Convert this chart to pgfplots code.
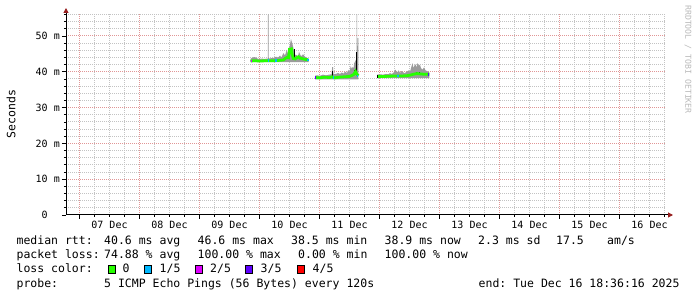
\documentclass[border=0pt]{standalone}
\usepackage{pgfplots}
\pgfplotsset{compat=1.18}
\usetikzlibrary{arrows.meta}
\usepackage{fontspec}
\setmonofont{DejaVu Sans Mono}
\definecolor{lgreen}{RGB}{38,255,0}
\definecolor{lone}{RGB}{0,184,255}
\definecolor{ltwo}{RGB}{221,0,255}
\definecolor{lthree}{RGB}{94,0,255}
\definecolor{lfour}{RGB}{255,0,0}
\definecolor{smoke}{RGB}{155,155,155}
\definecolor{mgrid}{RGB}{225,150,150}
\definecolor{ngrid}{RGB}{195,195,195}
\definecolor{arrowred}{RGB}{150,30,30}
\definecolor{wmark}{RGB}{185,185,185}
\newcommand\lfont{\ttfamily\fontsize{11.5}{13}\selectfont}
\newcommand\afont{\ttfamily\fontsize{10}{12}\selectfont}
\newcommand\wfont{\ttfamily\fontsize{8.2}{10}\selectfont}
\newcommand\lbox[2]{\draw[fill=#1, draw=black, line width=0.8pt] (#2pt,23.6pt) rectangle ++(7.2pt,7.6pt);}
\begin{document}
\begin{tikzpicture}
\path[use as bounding box] (0pt,0pt) rectangle (697pt,297pt);
\begin{axis}[
  at={(66pt,82pt)}, anchor=south west,
  width=600pt, height=200.5pt, scale only axis,
  xmin=-5.4, xmax=234.6, ymin=0, ymax=56,
  axis lines=left,
  x axis line style={-{Triangle[length=5pt,width=5pt,color=arrowred]}, shorten >=-7pt},
  y axis line style={-{Triangle[length=5pt,width=5pt,color=arrowred]}, shorten >=-6.5pt},
  axis line style={black, line width=1pt},
  xtick={0,24,48,72,96,120,144,168,192,216},
  xticklabels={},
  minor xtick={6,12,18,30,36,42,54,60,66,78,84,90,102,108,114,126,132,138,150,156,162,174,180,186,198,204,210,222,228,234},
  extra x ticks={12,36,60,84,108,132,156,180,204,228},
  extra x tick labels={07 Dec,08 Dec,09 Dec,10 Dec,11 Dec,12 Dec,13 Dec,14 Dec,15 Dec,16 Dec},
  extra x tick style={grid=none, major tick length=0pt},
  ytick={0,10,20,30,40,50},
  yticklabels={0\phantom{00},10 m,20 m,30 m,40 m,50 m},
  minor ytick={2,4,6,8,12,14,16,18,22,24,26,28,32,34,36,38,42,44,46,48,52,54,56},
  grid=both,
  major grid style={mgrid, line width=1pt, dash pattern=on 1pt off 1pt},
  minor grid style={ngrid, line width=1pt, dash pattern=on 1pt off 1pt},
  tick align=outside,
  major tick length=4pt, minor tick length=2pt,
  major tick style={black, line width=0.8pt},
  minor tick style={black, line width=0.8pt},
  ticklabel style={font=\afont},
  xticklabel style={anchor=north, inner sep=0pt, yshift=-6pt},
  yticklabel style={anchor=east, inner sep=0pt, xshift=-2pt},
  clip=true,
]
% ---- smoke segment 1
\addplot[fill=smoke, draw=none] coordinates {
(68.4,43.6) (69.0,43.9) (69.8,44.1) (70.6,44.0) (71.4,43.6) (72.2,43.6) (73.0,43.7) (73.8,43.6)
(75.3,43.7) (75.4,56.0) (75.64,56.0) (75.7,43.7) (76.6,43.8) (77.8,43.9) (78.6,44.2) (79.4,44.0)
(80.2,44.5) (80.8,44.0) (81.5,45.2) (82.2,44.6) (82.9,46.1) (83.4,45.0) (84.0,47.0) (84.6,49.1)
(85.1,48.0) (85.6,46.5) (86.0,45.3) (86.4,44.6) (86.9,44.7) (87.4,44.2) (87.8,45.6) (88.4,44.6)
(88.9,44.4) (89.4,44.9) (90.2,44.2) (91.3,43.8) (91.6,43.6)
(91.6,42.7) (68.4,42.7)} -- cycle;
% ---- smoke segment 2
\addplot[fill=smoke, draw=none] coordinates {
(94.2,38.9) (95.0,39.0) (96.2,38.9) (97.4,39.2) (98.6,39.0) (99.8,39.2) (100.8,39.3) (101.1,41.3)
(101.4,41.3) (101.6,39.4) (102.6,39.4) (103.4,39.7) (104.2,39.4) (104.9,39.8) (105.6,39.5) (106.2,40.0)
(107.0,39.7) (107.5,40.5) (108.0,40.0) (108.5,41.6) (108.9,40.8) (109.3,41.4) (109.6,40.9) (109.9,42.4)
(110.5,43.3) (110.8,43.0) (110.84,56.0) (111.04,56.0) (111.08,44.0) (111.28,49.4) (111.5,49.4)
(111.5,37.9) (94.2,37.9)} -- cycle;
% ---- smoke segment 3
\addplot[fill=smoke, draw=none] coordinates {
(119.0,39.2) (120.2,39.3) (121.4,39.2) (122.6,39.4) (123.4,39.3) (124.2,39.6) (125.0,39.4) (125.8,39.9)
(126.4,40.6) (127.0,39.8) (127.7,40.4) (128.2,39.7) (128.8,40.2) (129.4,39.9) (130.0,39.6) (130.6,39.9)
(131.7,40.4) (132.2,40.0) (132.8,41.5) (133.2,42.4) (133.6,41.0) (134.0,41.8) (134.4,42.1) (134.8,41.2)
(135.2,42.4) (135.7,41.7) (136.2,42.0) (136.6,41.0) (137.2,40.6) (137.8,41.2) (138.4,40.4) (139.0,40.2)
(139.6,40.0) (139.9,39.8)
(139.9,38.2) (119.0,38.2)} -- cycle;
% ---- dark smoke bits
\addplot[black, line width=0.9pt] coordinates {(83.9,43.5) (83.9,45.8)};
\addplot[black, line width=0.9pt] coordinates {(85.9,43.5) (85.9,46.5)};
\addplot[black, line width=0.9pt] coordinates {(101.0,38.4) (101.0,40.1)};
\addplot[black, line width=0.9pt] coordinates {(109.8,39.0) (109.8,40.5)};
\addplot[black, line width=0.9pt] coordinates {(110.9,39.6) (110.9,45.6)};
\addplot[black, line width=0.9pt] coordinates {(134.9,39.2) (134.9,40.0)};
\addplot[black, line width=0.9pt] coordinates {(136.0,39.2) (136.0,39.9)};
% ---- median (0 loss)
\addplot[lgreen, line width=2.8pt] coordinates {
(68.4,43.0) (70,43.1) (72,43.0) (75,43.1) (78,43.1) (80,43.2) (81.6,43.3) (82.4,43.8) (83.3,44.1)
(83.6,44.0) (84.0,46.3) (84.8,46.4) (85.1,44.8) (85.5,43.7) (86.3,43.6) (87,44.0) (87.6,44.2)
(88.2,43.8) (89,43.7) (90,43.5) (91.6,43.3)};
\addplot[lgreen, line width=2.8pt] coordinates {
(94.2,38.4) (96,38.3) (98,38.5) (100,38.4) (101,38.6) (102,38.3) (104,38.5) (106,38.6) (108,38.7)
(109,39.0) (109.8,39.3) (110.4,40.1) (110.9,39.4) (111.5,38.9)};
\addplot[lgreen, line width=2.8pt] coordinates {
(119.0,38.7) (122,38.7) (125,38.8) (128,38.8) (131,38.9) (132.5,39.1) (133.5,39.3) (135,39.5)
(136.5,39.4) (138,39.3) (139.9,39.3)};
% ---- median with loss
\addplot[ltwo, line width=2.8pt] coordinates {(68.4,43.0) (68.8,43.0)};
\addplot[lone, line width=2.8pt] coordinates {(75.4,43.1) (75.7,43.1)};
\addplot[lone, line width=2.8pt] coordinates {(78.2,43.1) (78.9,43.1)};
\addplot[lone, line width=2.8pt] coordinates {(91.0,43.3) (91.6,43.3)};
\addplot[lthree, line width=2.8pt] coordinates {(94.2,38.4) (94.5,38.4)};
\addplot[lone, line width=2.8pt] coordinates {(101.2,38.4) (101.8,38.4)};
\addplot[lone, line width=2.8pt] coordinates {(111.1,38.8) (111.5,38.8)};
\addplot[black, line width=2.8pt] coordinates {(119.0,38.7) (119.3,38.7)};
\addplot[lone, line width=2.8pt] coordinates {(127.0,38.8) (127.7,38.8)};
\addplot[lthree, line width=2.8pt] coordinates {(139.4,39.3) (139.9,39.3)};
\end{axis}
% ---- y label and watermark
\node[font=\lfont, rotate=90, inner sep=0pt] at (11pt,183.2pt) {Seconds};
\node[font=\wfont, text=wmark, rotate=-90, inner sep=0pt] at (688pt,237.5pt) {RRDTOOL / TOBI OETIKER};
% ---- legend
\begin{scope}[every node/.style={font=\lfont, anchor=base west, inner sep=0pt}]
\node at (16.4pt,52.7pt) {median rtt:};
\node at (104pt,52.7pt) {40.6 ms avg};
\node at (197.5pt,52.7pt) {46.6 ms max};
\node at (291pt,52.7pt) {38.5 ms min};
\node at (384.5pt,52.7pt) {38.9 ms now};
\node at (478pt,52.7pt) {2.3 ms sd};
\node at (556pt,52.7pt) {17.5};
\node at (607pt,52.7pt) {am/s};
\node at (16.4pt,38.4pt) {packet loss:};
\node at (104pt,38.4pt) {74.88 \% avg};
\node at (197.5pt,38.4pt) {100.00 \% max};
\node at (298pt,38.4pt) {0.00 \% min};
\node at (384.5pt,38.4pt) {100.00 \% now};
\node at (16.4pt,24.0pt) {loss color:};
\node at (122.5pt,24.0pt) {0};
\node at (159.5pt,24.0pt) {1/5};
\node at (210pt,24.0pt) {2/5};
\node at (260.5pt,24.0pt) {3/5};
\node at (312.5pt,24.0pt) {4/5};
\node at (16.4pt,9.7pt) {probe:};
\node at (104pt,9.7pt) {5 ICMP Echo Pings (56 Bytes) every 120s};
\node at (478.5pt,9.7pt) {end: Tue Dec 16 18:36:16 2025};
\end{scope}
\lbox{lgreen}{108}
\lbox{lone}{144.5}
\lbox{ltwo}{195.5}
\lbox{lthree}{245.5}
\lbox{lfour}{297.5}
\end{tikzpicture}
\end{document}
